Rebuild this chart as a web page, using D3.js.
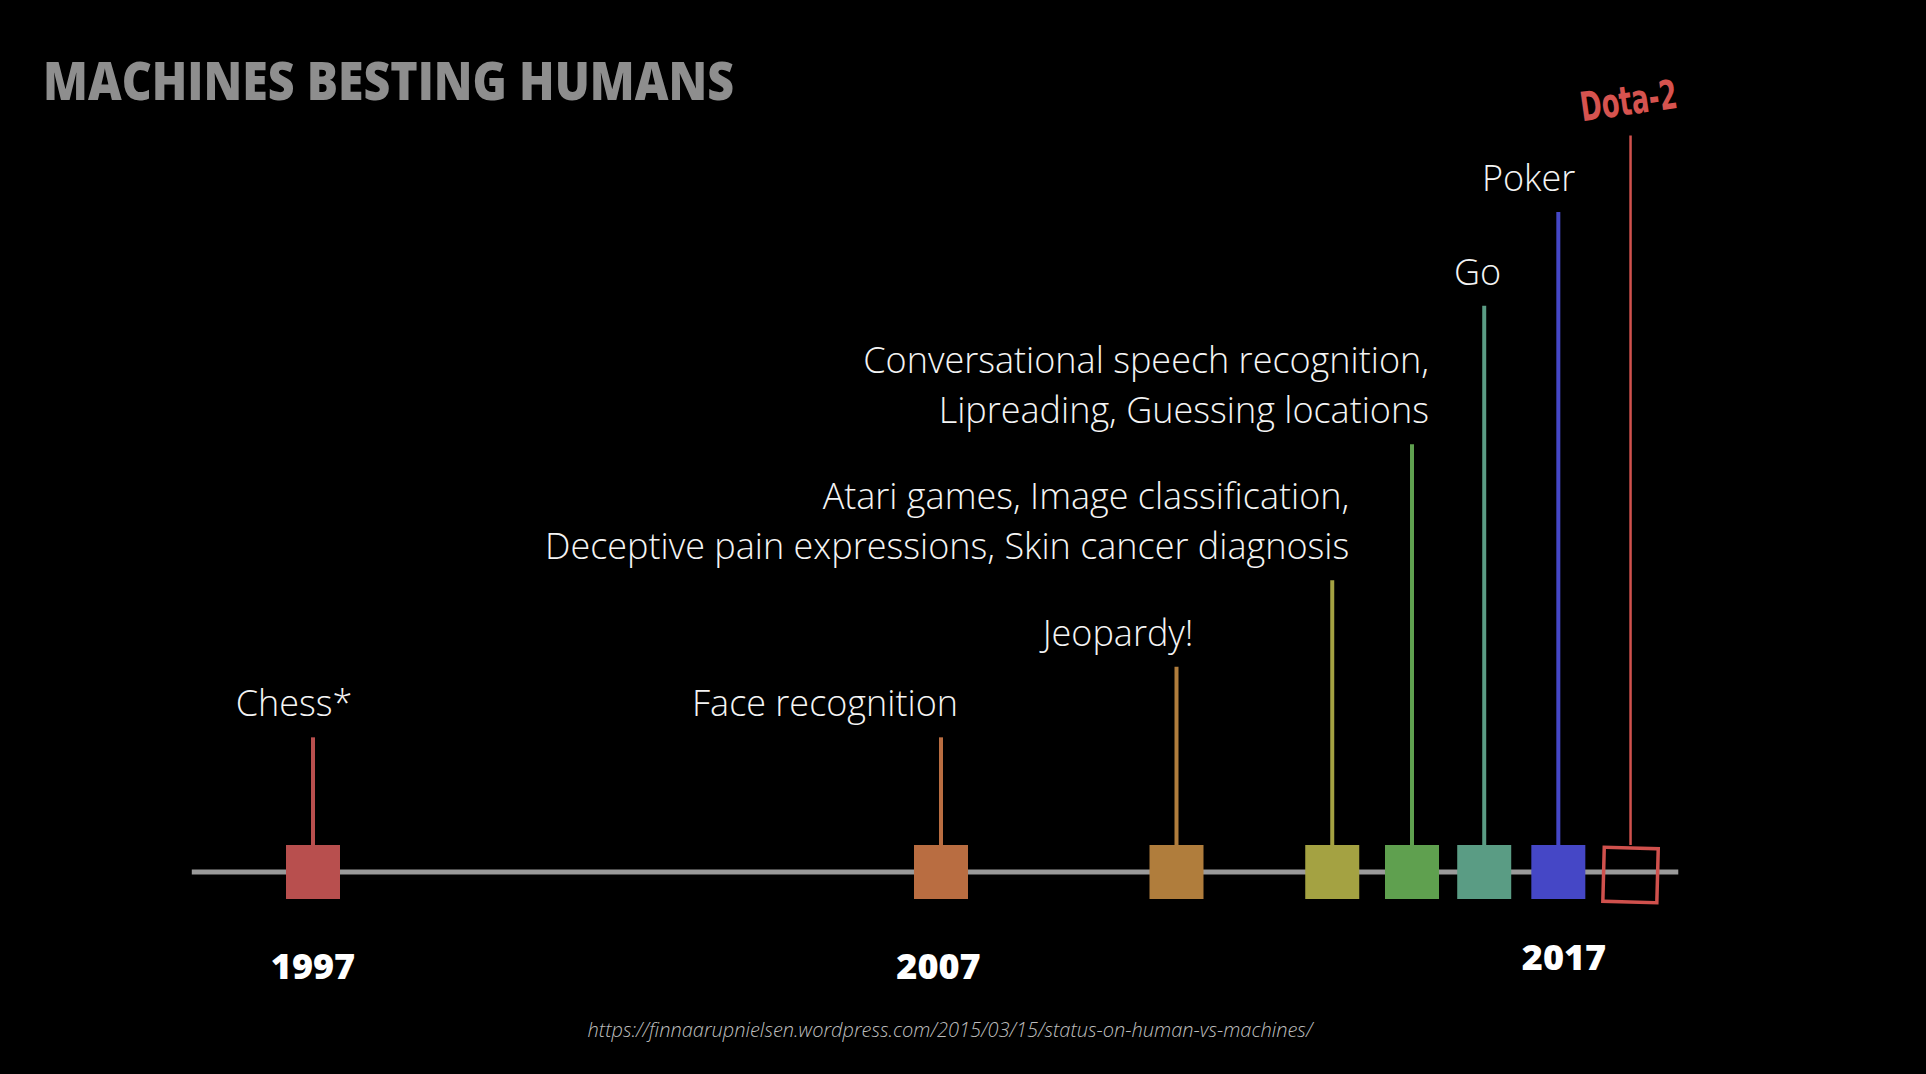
<!DOCTYPE html>
<html>
<head>
<meta charset="utf-8">
<script src="https://cdn.jsdelivr.net/npm/d3@7"></script>
<style>
  html, body { margin: 0; padding: 0; background: #000; }
  svg { display: block; }
  .label { font-family: "Open Sans", sans-serif; font-weight: 300; fill: #f4f4f4; font-size: 36px; }
  .year { font-family: "Open Sans", sans-serif; font-weight: 800; fill: #fff; font-size: 36px; }
  .title { font-family: "Open Sans", sans-serif; font-weight: 800; fill: #8e8e8e; font-size: 53px; }
  .source { font-family: "Open Sans", sans-serif; font-weight: 300; font-style: italic; fill: #bdbdbd; font-size: 20px; }
  .dota { font-family: "DejaVu Sans Condensed", "DejaVu Sans", sans-serif; font-weight: bold; fill: #d6534f; font-size: 35px; }
</style>
</head>
<body>
<svg id="chart"></svg>
<script>
// milestones
const events = ["Chess*", "Face recognition", "Jeopardy!",
  "Atari games, Image classification,|Deceptive pain expressions, Skin cancer diagnosis",
  "Conversational speech recognition,|Lipreading, Guessing locations",
  "Go", "Poker", "Dota-2"]
const years = [1997, 2007, 2010.75, 2013.23, 2014.5, 2015.65, 2016.83, 2017.98]
const levels = [0.181, 0.181, 0.276, 0.392, 0.575, 0.761, 0.887, 0.99]
const colors = ["#b84f4e", "#b96d41", "#b07d3c", "#a4a242", "#5fa04f", "#5a9c84", "#4547c6", "#d0514d"]
const tickYears = [1997, 2007, 2017]
const axisSpan = [1995.07, 2018.74]

const title = "MACHINES BESTING HUMANS"
const source = "https://finnaarupnielsen.wordpress.com/2015/03/15/status-on-human-vs-machines/"

const W = 1926, H = 1074
const svg = d3.select("#chart").attr("width", W).attr("height", H)

svg.append("rect").attr("width", W).attr("height", H).attr("fill", "#000")

const x = d3.scaleLinear()
    .domain([1997, 2017])
    .range([313, 1569])

const y = d3.scaleLinear()
    .domain([0, 1])
    .range([872, 128])

const box = 54

svg.append("text")
    .attr("class", "title")
    .attr("x", 43)
    .attr("y", 100)
    .attr("textLength", 691)
    .attr("lengthAdjust", "spacingAndGlyphs")
    .text(title)

// timeline
svg.append("line")
    .attr("x1", x(axisSpan[0]))
    .attr("x2", x(axisSpan[1]))
    .attr("y1", y(0))
    .attr("y2", y(0))
    .attr("stroke", "#9a9a9a")
    .attr("stroke-width", 5)

const data = events.map((e, i) => ({ name: e, year: years[i], level: levels[i], color: colors[i], i: i }))
const last = data.length - 1

const groups = svg.selectAll("g.event")
    .data(data)
    .enter()
    .append("g")
    .attr("class", "event")

groups.append("line")
    .attr("x1", d => x(d.year))
    .attr("x2", d => x(d.year))
    .attr("y1", d => y(d.level))
    .attr("y2", y(0) - box / 2)
    .attr("stroke", d => d.color)
    .attr("stroke-width", d => d.i === last ? 2.5 : 4)

groups.append("rect")
    .attr("x", d => x(d.year) - box / 2)
    .attr("y", y(0) - box / 2)
    .attr("width", box)
    .attr("height", box)
    .attr("fill", d => d.i === last ? "none" : d.color)
    .attr("stroke", d => d.i === last ? d.color : "none")
    .attr("stroke-width", 3.5)
    .attr("transform", d => d.i === last ? `translate(0,3) rotate(1.5, ${x(d.year)}, ${y(0)})` : null)

// labels above stems (the last one is the hand-written Dota-2)
groups.filter(d => d.i !== last).each(function(d) {
    const lines = d.name.split("|")
    const base = y(d.level) - 21
    const lx = d.i === 0 ? x(d.year) - 19 : x(d.year) + 17
    const t = d3.select(this).append("text")
        .attr("class", "label")
        .attr("text-anchor", d.i === 0 ? "middle" : "end")
    lines.forEach((l, k) => {
        t.append("tspan")
            .attr("x", lx)
            .attr("y", base - (lines.length - 1 - k) * 50)
            .text(l)
    })
})

const dota = data[last]
svg.append("text")
    .attr("class", "dota")
    .attr("text-anchor", "middle")
    .attr("transform", `translate(${x(dota.year)}, ${y(dota.level) - 21}) rotate(-8) scale(0.82, 1.15)`)
    .text(dota.name)

svg.selectAll("text.year")
    .data(tickYears)
    .enter()
    .append("text")
    .attr("class", "year")
    .attr("text-anchor", "middle")
    .attr("x", d => x(d) - (d - 1997) * 0.25)
    .attr("y", d => d === 2017 ? 970 : 979)
    .text(d => d)

svg.append("text")
    .attr("class", "source")
    .attr("text-anchor", "middle")
    .attr("x", 950)
    .attr("y", 1037)
    .text(source)
</script>
</body>
</html>
